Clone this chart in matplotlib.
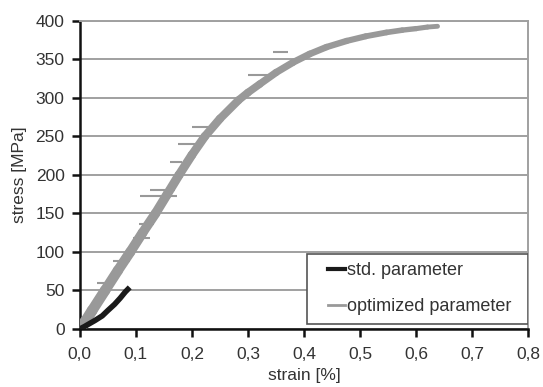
import matplotlib
matplotlib.use("Agg")
import matplotlib.pyplot as plt
import numpy as np
from matplotlib.collections import LineCollection
from matplotlib.lines import Line2D
from matplotlib.patches import Rectangle

plt.rcParams['font.family'] = ['Liberation Sans', 'DejaVu Sans']

# stress-strain curves (strain in %, stress in MPa)
std_strain = [0.0, 0.008, 0.015, 0.027, 0.040, 0.050, 0.062, 0.072, 0.081, 0.089]
std_stress = [0, 3, 6, 11, 17, 24, 32, 40, 48, 54]

opt_strain = [0.0, 0.010, 0.022, 0.045, 0.068, 0.090, 0.112, 0.135, 0.156, 0.177,
              0.200, 0.223, 0.250, 0.283, 0.300, 0.321, 0.350, 0.380, 0.410,
              0.440, 0.476, 0.510, 0.547, 0.575, 0.600, 0.620, 0.638]
opt_stress = [0, 10, 24, 50, 76, 100, 125, 150, 175, 200,
              226, 250, 273, 297, 307, 318, 333, 346, 357,
              366, 374, 380, 385, 388, 390, 392, 393]

# outliers in the optimized measurement (stress, strain from, strain to)
spike_stress = [60, 88, 118, 136, 172, 180, 217, 240, 262, 330, 360]
spike_lo = [0.030, 0.060, 0.095, 0.105, 0.107, 0.125, 0.161, 0.176, 0.200, 0.300, 0.345]
spike_hi = [0.062, 0.090, 0.125, 0.132, 0.173, 0.170, 0.182, 0.215, 0.238, 0.342, 0.372]

x_ticks = [0.0, 0.1, 0.2, 0.3, 0.4, 0.5, 0.6, 0.7, 0.8]
x_labels = ['0,0', '0,1', '0,2', '0,3', '0,4', '0,5', '0,6', '0,7', '0,8']
y_ticks = [0, 50, 100, 150, 200, 250, 300, 350, 400]

gray = '#999999'
dark = '#1a1a1a'

fig = plt.figure(figsize=(5.43, 3.87), dpi=100)
ax = fig.add_axes([0.147, 0.150, 0.826, 0.796])

ax.set_xlim(0, 0.8)
ax.set_ylim(0, 400)
ax.yaxis.grid(True, color='#a0a0a0', lw=1.4)
ax.set_axisbelow(True)

ax.hlines(spike_stress, spike_lo, spike_hi, color=gray, lw=1.5, zorder=2)

# optimized curve: scatter band gets narrower towards the end
pts = np.column_stack([opt_strain, opt_stress])
segs = np.stack([pts[:-1], pts[1:]], axis=1)
widths = np.linspace(8, 3.5, len(segs))
lc = LineCollection(segs, colors=gray, linewidths=widths, capstyle='round', zorder=3)
ax.add_collection(lc)

ax.plot(std_strain, std_stress, color=dark, lw=4, solid_capstyle='butt', zorder=4)

ax.set_xticks(x_ticks)
ax.set_xticklabels(x_labels)
ax.set_yticks(y_ticks)
ax.tick_params(direction='out', length=6, width=1.8, labelsize=12.5,
               colors='#111111', labelcolor='#333333')
ax.tick_params(axis='x', pad=7)
ax.tick_params(axis='y', pad=5)

for side in ['left', 'bottom']:
    ax.spines[side].set_color('#111111')
    ax.spines[side].set_linewidth(1.8)
for side in ['right', 'top']:
    ax.spines[side].set_color('#a0a0a0')
    ax.spines[side].set_linewidth(1.4)

ax.set_xlabel('strain [%]', fontsize=12.5, color='#333333', labelpad=4)
ax.set_ylabel('stress [MPa]', fontsize=12.5, color='#333333', labelpad=6)

# legend frame is wider than the entries need, so draw it separately
ax.add_patch(Rectangle((0.507, 0.016), 0.493, 0.2275, transform=ax.transAxes,
                       facecolor='white', edgecolor='#555555', lw=1.2, zorder=5))

handles = [Line2D([], [], color=dark, lw=3),
           Line2D([], [], color=gray, lw=2)]
labels = ['std. parameter', 'optimized parameter']
leg = ax.legend(handles, labels, loc='upper left', bbox_to_anchor=(0.5536, 0.216),
                fontsize=13, handlelength=0.95, handletextpad=0.12,
                labelspacing=1.04, borderpad=0, borderaxespad=0, frameon=False)
leg.set_zorder(6)
for t in leg.get_texts():
    t.set_color('#333333')

fig.savefig('out.png', dpi=100)
